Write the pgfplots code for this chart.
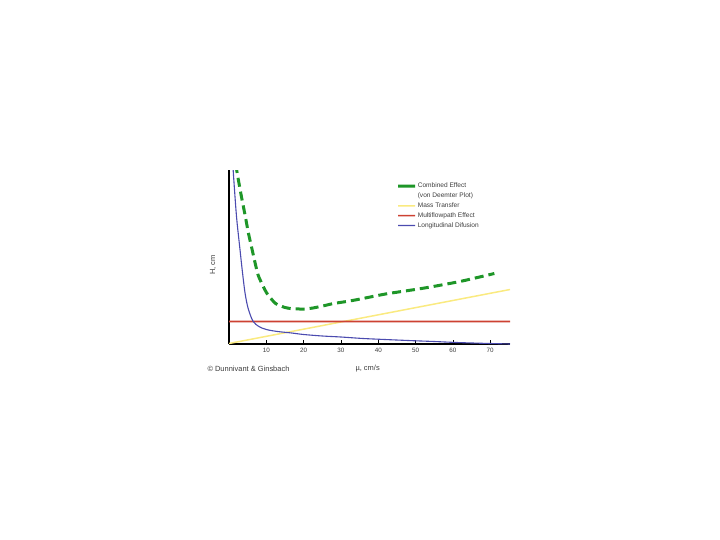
\documentclass[border=0pt]{standalone}
\usepackage{fontspec}
\setmainfont{Liberation Sans}
\usepackage{pgfplots}
\pgfplotsset{compat=1.18}
\definecolor{vdgreen}{RGB}{30,150,40}
\definecolor{mtyellow}{RGB}{250,234,128}
\definecolor{mpred}{RGB}{205,65,50}
\definecolor{ldblue}{RGB}{75,75,175}
\definecolor{labgray}{RGB}{60,60,60}
\begin{document}
\begin{tikzpicture}
\useasboundingbox (0,0) rectangle (720bp,-540bp);
\begin{axis}[
  at={(229bp,-344bp)}, anchor=south west,
  scale only axis, width=281bp, height=174bp,
  xmin=0, xmax=75.3, ymin=0, ymax=17.4,
  axis x line=bottom, axis y line=left,
  axis line style={-, line width=2.6bp, black},
  xtick={10,20,30,40,50,60,70}, ytick=\empty,
  tick align=inside, major tick length=4bp,
  tick style={black, line width=0.6bp},
  /pgf/number format/assume math mode=true,
  tick label style={font=\fontsize{6.3}{7}\selectfont, text=labgray},
  xticklabel shift=1bp,
  clip=true,
  legend style={at={(rel axis cs:0.585,0.945)}, anchor=north west, draw=none, fill=none,
    font=\fontsize{6.6}{7}\selectfont, text=labgray, row sep=1.2bp,
    nodes={inner sep=1.2bp}},
  legend cell align=left,
  legend image code/.code={\draw[#1] (0bp,0bp) -- (17bp,0.03bp);},
]
\addlegendimage{color=vdgreen, line width=3bp}
\addlegendentry{Combined Effect}
\addlegendimage{empty legend}
\addlegendentry{(von Deemter Plot)}
\addplot[color=mtyellow, line width=1.5bp] coordinates {(0,0.05) (75.3,5.45)};
\addlegendentry{Mass Transfer}
\addplot[color=mpred, line width=1.6bp] coordinates {(0,2.25) (75.3,2.253)};
\addlegendentry{Multiflowpath Effect}
\addplot[color=ldblue, line width=1.1bp, smooth] coordinates {
 (1.0,18.5) (1.15,17.2) (2.0,12.8) (2.9,9.6) (3.6,7.2) (4.3,5.1) (5.1,3.6)
 (6.4,2.3) (8,1.75) (10,1.45) (13,1.25) (16.8,1.1) (20,0.95) (25,0.8)
 (30,0.7) (36,0.55) (43.6,0.42) (50,0.32) (55,0.25) (61,0.15) (68,0.07) (75.3,0.0)};
\addlegendentry{Longitudinal Difusion}
\addplot[color=vdgreen, line width=3bp, dash pattern=on 9bp off 5bp, smooth, forget plot] coordinates {
 (1.9,18) (2.1,17.3) (3.2,15) (4.3,12.9) (5.2,11.1) (6.1,9.6) (7.0,8.1) (7.8,6.9)
 (9,5.9) (10.1,5.1) (12.3,4.1) (13.6,3.85) (15,3.65) (17,3.52) (19,3.5) (20.3,3.5)
 (22.5,3.6) (25.7,3.85) (28,4.05) (31.5,4.25) (34.5,4.45) (40.5,4.9) (43.6,5.1)
 (52.4,5.6) (61.2,6.2) (66,6.6) (71.1,7.05)};
\end{axis}
\node[rotate=90, text=labgray, font=\fontsize{7.5}{8}\selectfont] at (213bp,-265bp) {H, cm};
\node[text=labgray, font=\fontsize{7.5}{8}\selectfont, anchor=west] at (204bp,-369bp) {\textcopyright{} Dunnivant \& Ginsbach};
\node[text=labgray, font=\fontsize{7.5}{8}\selectfont, anchor=west] at (352bp,-369bp) {µ, cm/s};
\end{tikzpicture}
\end{document}
